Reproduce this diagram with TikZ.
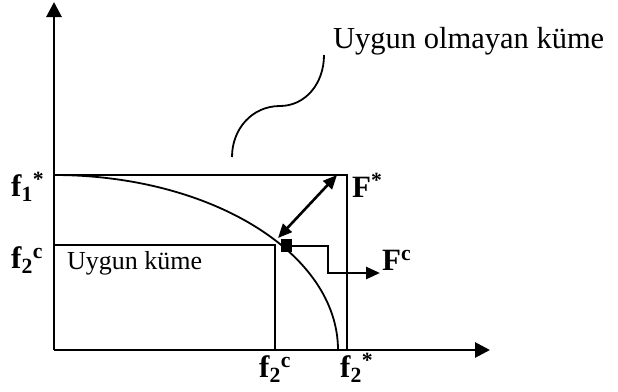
\documentclass[tikz,border=0pt]{standalone}
\usepackage{fontspec}
\setmainfont{Liberation Serif}
\usetikzlibrary{arrows.meta}
\tikzset{
  axis/.style={line width=2.8pt,-{Triangle[length=15pt,width=15pt]}},
  thinline/.style={line width=1.8pt},
  arr/.style={line width=2.6pt,-{Triangle[length=14pt,width=12pt]}},
  dblarr/.style={line width=2.6pt,{Triangle[length=14pt,width=12pt]}-{Triangle[length=14pt,width=12pt]}},
  lbl/.style={inner sep=0pt,anchor=base west,font=\fontsize{31}{36}\selectfont\bfseries},
  txt/.style={inner sep=0pt,anchor=base west}
}
\begin{document}
\begin{tikzpicture}[x=1pt,y=-1pt]
\useasboundingbox (0,0) rectangle (618,391);
% coordinates
\coordinate (O) at (54,350);
\coordinate (Ytop) at (54,2);
\coordinate (Xend) at (490,350);
\coordinate (F1) at (54,175);
\coordinate (Fstar) at (347,175);
\coordinate (F2s) at (347,350);
\coordinate (F2cL) at (54,245);
\coordinate (Fc) at (275,245);
\coordinate (F2cB) at (275,350);
% axes
\draw[axis] (O) -- (Ytop);
\draw[axis] (O) -- (Xend);
% box lines
\draw[thinline] (F1) -- (Fstar) -- (F2s);
\draw[thinline] (F2cL) -- (Fc) -- (F2cB);
% Pareto curve (quarter ellipse)
\draw[thinline] (F1) arc[start angle=90,end angle=0,x radius=284pt,y radius=175pt];
% double arrow
\coordinate (DA1) at (278,238);
\coordinate (DA2) at (337,175);
\draw[dblarr] (DA1) -- (DA2);
% step arrow
\coordinate (S0) at (284,246);
\coordinate (S1) at (328,246);
\coordinate (S2) at (328,273);
\coordinate (S3) at (380,273);
\fill (281,239) rectangle (292,252);
\draw[arr] (S0) -- (S1) -- (S2) -- (S3);
% wavy leader
\coordinate (W0) at (232,157);
\coordinate (W1) at (280,106);
\coordinate (W2) at (324,55);
\draw[thinline] (W0) .. controls (232,129) and (252,106) .. (W1) .. controls (305,106) and (324,84) .. (W2);
% texts
\node[txt,font=\fontsize{30.5}{36}\selectfont] (top) at (333,48) {Uygun olmayan küme};
\node[txt,font=\fontsize{26}{30}\selectfont] (uk) at (67,269) {Uygun küme};
\node[lbl] (l1) at (11,196) {f\textsubscript{1}\textsuperscript{*}};
\node[lbl] (l2) at (11,268) {f\textsubscript{2}\textsuperscript{c}};
\node[lbl] (l3) at (259,377) {f\textsubscript{2}\textsuperscript{c}};
\node[lbl] (l4) at (340,377) {f\textsubscript{2}\textsuperscript{*}};
\node[lbl] (l5) at (352,197) {F\textsuperscript{*}};
\node[lbl] (l6) at (382,270) {F\textsuperscript{c}};
\end{tikzpicture}
\end{document}
